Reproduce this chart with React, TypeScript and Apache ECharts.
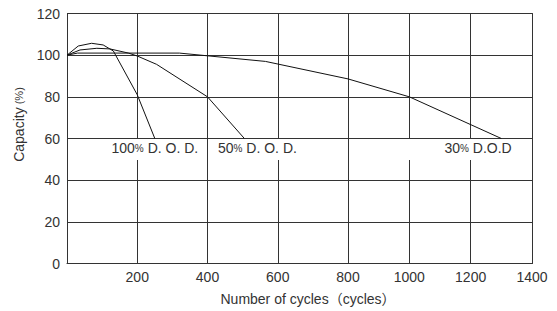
import React, { useEffect, useRef } from "react";
import * as echarts from "echarts";

// Data (cycles, capacity %)
const dod100: [number, number][] = [[0, 100], [32, 104.4], [70, 105.7], [103, 104.9], [132, 102], [200, 81], [250, 60]];
const dod50: [number, number][] = [[0, 100], [37, 102.5], [85, 103.3], [122, 103], [175, 101], [200, 99.6], [255, 95.6], [400, 80], [505, 60]];
const dod30: [number, number][] = [[0, 100], [30, 101], [320, 101], [565, 97], [800, 88.6], [1000, 80], [1300, 60]];

const xBreak = 800; // the grid spacing changes after 800 cycles
const xMin = 0;
const xMax = 1400;
const xStep = 200;
const yMin = 0;
const yMax = 120;
const yStep = 20;

const curveLabels = [
  { pct: "100", rest: " D. O. D." },
  { pct: "50", rest: " D. O. D." },
  { pct: "30", rest: " D.O.D" },
];
const yName = "Capacity";
const xName = "Number of cycles（cycles）";

const FONT = '"Liberation Sans", Arial, "Noto Sans CJK SC", sans-serif';
const GRID_COLOR = "#333";
const TEXT_COLOR = "#333";

export default function App() {
  const ref = useRef<HTMLDivElement>(null);
  useEffect(() => {
    if (!ref.current) return;
    const chart = echarts.init(ref.current, undefined, { renderer: "svg" });

    const dod30a = dod30.filter((p) => p[0] <= xBreak);
    const dod30b = dod30.filter((p) => p[0] >= xBreak);

    const lineStyle = { color: "#111", width: 1 };
    const mkSeries = (name: string, data: [number, number][], idx: number) => ({
      type: "line",
      name,
      data,
      xAxisIndex: idx,
      yAxisIndex: idx,
      symbol: "none",
      lineStyle,
      z: 5,
    });

    const axisLineCommon = { show: true, lineStyle: { color: GRID_COLOR, width: 1 } };
    const splitCommon = { show: true, lineStyle: { color: GRID_COLOR, width: 1 } };

    const rich = {
      n: { fontSize: 14, fontFamily: FONT, fill: TEXT_COLOR, color: TEXT_COLOR },
      p: { fontSize: 10, fontFamily: FONT, fill: TEXT_COLOR, color: TEXT_COLOR },
    };
    const labelText = (i: number) => `{n|${curveLabels[i].pct}}{p|%}{n|${curveLabels[i].rest}}`;

    chart.setOption({
      animation: false,
      backgroundColor: "#fff",
      grid: [
        { left: 67, top: 13.5, width: 281, height: 250 },
        { left: 348, top: 13.5, right: 25, height: 250 },
      ],
      xAxis: [
        {
          gridIndex: 0,
          type: "value",
          min: xMin,
          max: xBreak,
          interval: xStep,
          axisLine: axisLineCommon,
          axisTick: { show: false },
          splitLine: splitCommon,
          axisLabel: {
            fontSize: 14,
            fontFamily: FONT,
            color: TEXT_COLOR,
            margin: 6,
            formatter: (v: number) => (v === xMin ? "" : String(v)),
          },
        },
        {
          gridIndex: 1,
          type: "value",
          min: xBreak,
          max: xMax,
          interval: xStep,
          axisLine: axisLineCommon,
          axisTick: { show: false },
          splitLine: splitCommon,
          axisLabel: {
            fontSize: 14,
            fontFamily: FONT,
            color: TEXT_COLOR,
            margin: 6,
            formatter: (v: number) => (v === xBreak ? "" : String(v)),
          },
        },
      ],
      yAxis: [
        {
          gridIndex: 0,
          type: "value",
          min: yMin,
          max: yMax,
          interval: yStep,
          axisLine: axisLineCommon,
          axisTick: { show: false },
          splitLine: splitCommon,
          axisLabel: { fontSize: 14, fontFamily: FONT, color: TEXT_COLOR, margin: 7, padding: [3, 0, 0, 0] },
        },
        {
          gridIndex: 1,
          type: "value",
          position: "right",
          min: yMin,
          max: yMax,
          interval: yStep,
          axisLine: axisLineCommon,
          axisTick: { show: false },
          splitLine: splitCommon,
          axisLabel: { show: false },
        },
      ],
      series: [
        mkSeries("100% D. O. D.", dod100, 0),
        mkSeries("50% D. O. D.", dod50, 0),
        mkSeries("30% D.O.D", dod30a, 0),
        mkSeries("30% D.O.D ", dod30b, 1),
      ],
      graphic: [
        { type: "rect", z: 10, shape: { x: 105, y: 139, width: 98, height: 21 }, style: { fill: "#fff" } },
        { type: "rect", z: 10, shape: { x: 212, y: 139, width: 95, height: 21 }, style: { fill: "#fff" } },
        { type: "rect", z: 10, shape: { x: 398, y: 139, width: 127, height: 21 }, style: { fill: "#fff" } },
        { type: "text", z: 11, x: 111.5, y: 148, style: { text: labelText(0), rich, align: "left", verticalAlign: "middle", fontSize: 14, fontFamily: FONT, fill: TEXT_COLOR } },
        { type: "text", z: 11, x: 218, y: 148, style: { text: labelText(1), rich, align: "left", verticalAlign: "middle", fontSize: 14, fontFamily: FONT, fill: TEXT_COLOR } },
        { type: "text", z: 11, x: 444.5, y: 148, style: { text: labelText(2), rich, align: "left", verticalAlign: "middle", fontSize: 14, fontFamily: FONT, fill: TEXT_COLOR } },
        {
          type: "text",
          z: 11,
          x: 19,
          y: 124.5,
          rotation: Math.PI / 2,
          style: {
            text: `{n|${yName}}{p| (%)}`,
            rich: {
              n: { fontSize: 14, fontFamily: FONT, fill: TEXT_COLOR, color: TEXT_COLOR },
              p: { fontSize: 11, fontFamily: FONT, fill: TEXT_COLOR, color: TEXT_COLOR },
            },
            align: "center",
            verticalAlign: "middle",
            fontSize: 14,
            fontFamily: FONT,
            fill: TEXT_COLOR,
          },
        },
        {
          type: "text",
          z: 11,
          x: 308,
          y: 299,
          style: { text: xName, align: "center", verticalAlign: "middle", fontSize: 14, fontFamily: FONT, fill: TEXT_COLOR },
        },
      ],
    });
    return () => chart.dispose();
  }, []);
  return (
    <div
      ref={ref}
      style={{ position: "fixed", left: 0, top: 0, width: 557, height: 311, background: "#fff" }}
    />
  );
}
